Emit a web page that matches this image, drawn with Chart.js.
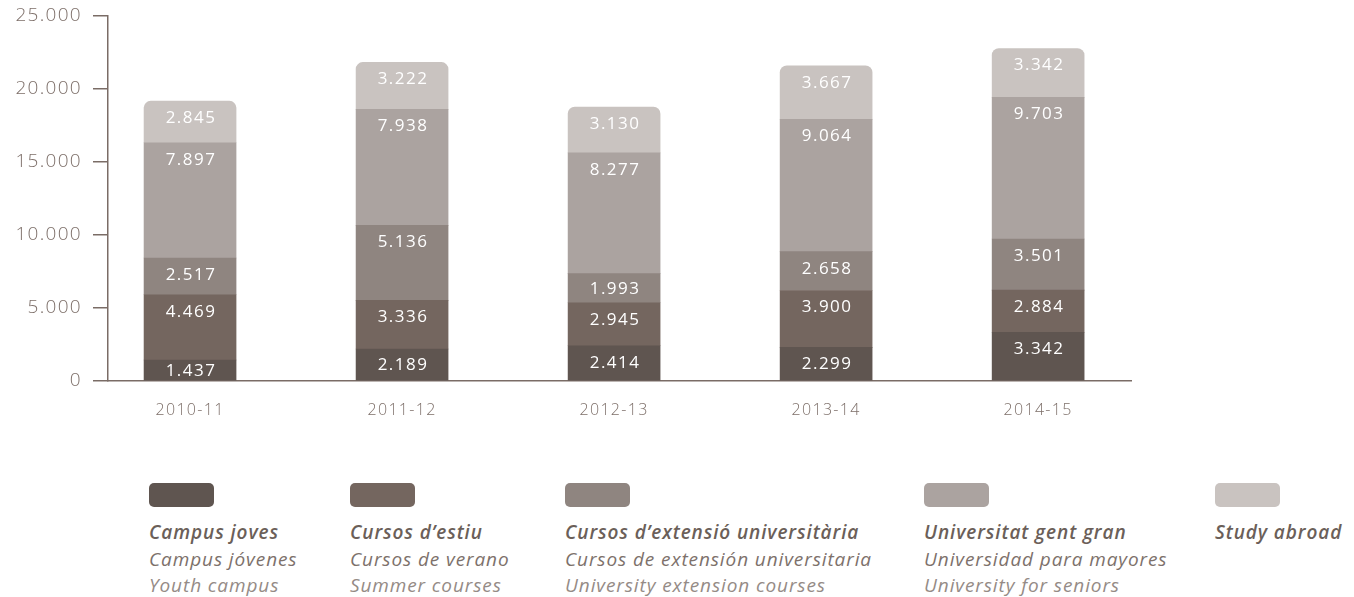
<!DOCTYPE html>
<html>
<head>
<meta charset="utf-8">
<script src="https://cdn.jsdelivr.net/npm/chart.js@4.4.1/dist/chart.umd.min.js"></script>
<style>
  body { margin: 0; background: #fff; width: 1354px; height: 597px; overflow: hidden; font-family: "Open Sans", sans-serif; }
  #wrap { position: absolute; left: 0; top: 0; width: 1354px; height: 430px; }
  .leg { position: absolute; top: 483px; }
  .sw { width: 65px; height: 24px; border-radius: 5px; margin-bottom: 12px; }
  .t { font-style: italic; font-size: 19px; line-height: 26.5px; letter-spacing: 0.9px; white-space: nowrap; }
  .l1 { font-weight: 600; color: #6b5f59; }
  .l2 { color: #7d716b; }
  .l3 { color: #958b86; }
</style>
</head>
<body>
<div id="wrap"><canvas id="chart"></canvas></div>
<div id="legend"></div>
<script>
const years = ['2010-11', '2011-12', '2012-13', '2013-14', '2014-15'];
const campusJoves = [1437, 2189, 2414, 2299, 3342];
const cursosEstiu = [4469, 3336, 2945, 3900, 2884];
const cursosExtensio = [2517, 5136, 1993, 2658, 3501];
const gentGran = [7897, 7938, 8277, 9064, 9703];
const studyAbroad = [2845, 3222, 3130, 3667, 3342];
const yTicks = [0, 5000, 10000, 15000, 20000, 25000];

const legendNames = [
  ['Campus joves', 'Campus jóvenes', 'Youth campus'],
  ['Cursos d\u2019estiu', 'Cursos de verano', 'Summer courses'],
  ['Cursos d\u2019extensió universitària', 'Cursos de extensión universitaria', 'University extension courses'],
  ['Universitat gent gran', 'Universidad para mayores', 'University for seniors'],
  ['Study abroad']
];

const colours = ['#5f5550', '#74665f', '#8f8580', '#aba3a0', '#c9c3c0'];
const legendLeft = [149, 350, 565, 924, 1215];
const axisColour = '#7a6c66';
const tickColour = '#7d6f69';

const fmt = v => String(v).replace(/\B(?=(\d{3})+(?!\d))/g, '.');

const series = [campusJoves, cursosEstiu, cursosExtensio, gentGran, studyAbroad];

const datasets = series.map((vals, k) => ({
  label: legendNames[k][0],
  data: vals.map((v, i) => ({ x: i, y: v })),
  backgroundColor: colours[k],
  barThickness: 92,
  borderSkipped: false,
  borderRadius: k === series.length - 1
    ? { topLeft: 7, topRight: 7, bottomLeft: 0, bottomRight: 0 }
    : 0
}));

// wider text like the original typeface
const spacing = {
  id: 'spacing',
  beforeLayout(chart) { chart.ctx.letterSpacing = '1.3px'; },
  beforeDraw(chart) { chart.ctx.letterSpacing = '1.3px'; }
};

// value labels near the top of each segment
const segmentLabels = {
  id: 'segmentLabels',
  afterDatasetsDraw(chart) {
    const ctx = chart.ctx;
    ctx.save();
    ctx.letterSpacing = '1.5px';
    ctx.fillStyle = '#ffffff';
    ctx.font = '500 17px "Open Sans", sans-serif';
    ctx.textAlign = 'center';
    ctx.textBaseline = 'middle';
    chart.data.datasets.forEach((ds, k) => {
      chart.getDatasetMeta(k).data.forEach((bar, i) => {
        const h = bar.base - bar.y;
        ctx.fillText(fmt(series[k][i]), bar.x + 1, bar.y + Math.min(17, h / 2 + 1));
      });
    });
    ctx.restore();
  }
};

new Chart(document.getElementById('chart').getContext('2d'), {
  type: 'bar',
  data: { datasets },
  plugins: [spacing, segmentLabels],
  options: {
    responsive: true,
    maintainAspectRatio: false,
    animation: false,
    layout: { padding: { top: 16, right: 223, left: 0, bottom: 0 } },
    plugins: { legend: { display: false }, tooltip: { enabled: false } },
    scales: {
      x: {
        type: 'linear',
        stacked: true,
        offset: false,
        min: -0.387,
        max: 4.438,
        afterBuildTicks: s => { s.ticks = years.map((_, i) => ({ value: i })); },
        afterFit: s => { s.height = 49; s.paddingLeft = 0; s.paddingRight = 0; },
        grid: { display: false },
        border: { color: axisColour, width: 1.5 },
        ticks: {
          callback: v => years[v],
          color: tickColour,
          font: { family: '"Open Sans", sans-serif', size: 16, weight: 300 },
          padding: 12,
          autoSkip: false,
          maxRotation: 0
        }
      },
      y: {
        stacked: true,
        min: 0,
        max: 25000,
        afterBuildTicks: s => { s.ticks = yTicks.map(v => ({ value: v })); },
        afterFit: s => { s.width = 108; s.paddingTop = 0; s.paddingBottom = 0; },
        grid: { drawOnChartArea: false, tickLength: 15, color: axisColour, lineWidth: 1.5 },
        border: { color: axisColour, width: 1.5 },
        ticks: {
          callback: v => fmt(v),
          color: tickColour,
          font: { family: '"Open Sans", sans-serif', size: 19, weight: 300 },
          padding: 11
        }
      }
    }
  }
});

const legend = document.getElementById('legend');
legendNames.forEach((names, k) => {
  const d = document.createElement('div');
  d.className = 'leg';
  d.style.left = legendLeft[k] + 'px';
  let html = '<div class="sw" style="background:' + colours[k] + '"></div>';
  names.forEach((n, j) => { html += '<div class="t l' + (j + 1) + '">' + n + '</div>'; });
  d.innerHTML = html;
  legend.appendChild(d);
});
</script>
</body>
</html>
